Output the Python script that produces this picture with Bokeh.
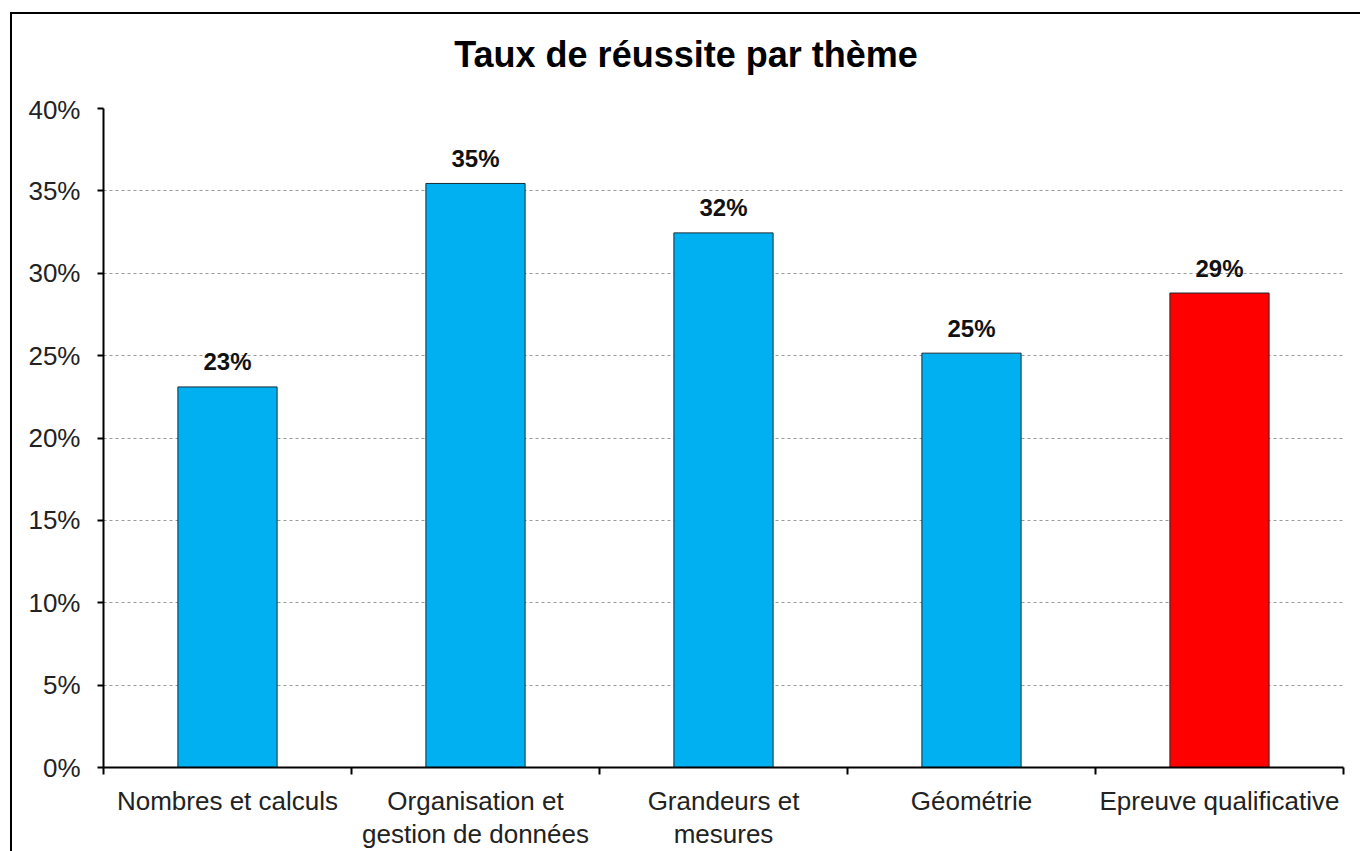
import numpy as np
from bokeh.plotting import figure
from bokeh.models import Range1d, FixedTicker, ColumnDataSource, Div
from bokeh.layouts import column
from bokeh.core.properties import value
from bokeh.embed import file_html
from bokeh.resources import INLINE

# ---- data ----
categories = ["Nombres et calculs", "Organisation et\ngestion de données",
              "Grandeurs et\nmesures", "Géométrie", "Epreuve qualificative"]
rates = [23.1, 35.45, 32.45, 25.15, 28.8]          # percent
y_ticks = [0, 5, 10, 15, 20, 25, 30, 35, 40]
title_text = "Taux de réussite par thème"

# ---- styles ----
bar_colors = ["#00B0F0", "#00B0F0", "#00B0F0", "#00B0F0", "#FF0000"]
FONT = "Liberation Sans"

xs = np.arange(len(categories)) + 0.5
src = ColumnDataSource(dict(x=xs, top=rates, color=bar_colors,
                            label=[f"{v:.0f}%" for v in rates]))

title_div = Div(text=title_text, width=1348, height=80, margin=0,
                styles={"font-family": FONT, "font-size": "36px",
                        "font-weight": "bold", "color": "#000000",
                        "text-align": "center", "line-height": "82px",
                        "background-color": "white"})

p = figure(width=1348, height=757, output_backend="svg", toolbar_location=None,
           x_range=Range1d(0, len(categories)), y_range=Range1d(0, 40),
           min_border_left=91, min_border_right=17, min_border_top=14,
           min_border_bottom=84, margin=0)
p.outline_line_color = None
p.background_fill_color = "white"
p.border_fill_color = "white"

p.vbar(x="x", top="top", width=0.4, bottom=0, source=src,
       fill_color="color", line_color="#1a2a33", line_width=1)

p.text(x="x", y="top", text="label", source=src,
       text_font=value(FONT), text_font_size="24px", text_font_style="bold",
       text_align="center", text_baseline="alphabetic", y_offset=-25,
       text_color="#111111")

# y axis
yax = p.yaxis[0]
yax.ticker = FixedTicker(ticks=y_ticks)
yax.major_label_overrides = {t: f"{t}%" for t in y_ticks}
yax.axis_line_color = "#000000"
yax.axis_line_width = 2
yax.major_tick_line_color = "#000000"
yax.major_tick_line_width = 2
yax.major_tick_out = 6
yax.major_tick_in = 0
yax.minor_tick_line_color = None
yax.major_label_text_font = FONT
yax.major_label_text_font_size = "26px"
yax.major_label_text_color = "#222222"
yax.major_label_standoff = 17

# x axis
xax = p.xaxis[0]
xax.ticker = FixedTicker(ticks=list(xs), minor_ticks=list(range(len(categories) + 1)))
xax.major_label_overrides = {float(x): c for x, c in zip(xs, categories)}
xax.axis_line_color = "#000000"
xax.axis_line_width = 2
xax.major_tick_line_color = None
xax.major_tick_out = 0
xax.major_tick_in = 0
xax.minor_tick_line_color = "#000000"
xax.minor_tick_line_width = 2
xax.minor_tick_out = 7
xax.minor_tick_in = 0
xax.major_label_text_font = FONT
xax.major_label_text_font_size = "26px"
xax.major_label_text_line_height = 1.1
xax.major_label_text_color = "#222222"
xax.major_label_standoff = 11

p.xgrid.grid_line_color = None
p.ygrid.ticker = FixedTicker(ticks=y_ticks)
p.ygrid.grid_line_color = "#9a9a9a"
p.ygrid.grid_line_dash = "3 3"
p.ygrid.grid_line_width = 1

layout = column(title_div, p, spacing=0, margin=0,
                styles={"margin-left": "10px", "margin-top": "12px",
                        "border-left": "2px solid #000", "border-top": "2px solid #000",
                        "background-color": "white"})

open("out.html", "w").write(file_html(layout, INLINE))
